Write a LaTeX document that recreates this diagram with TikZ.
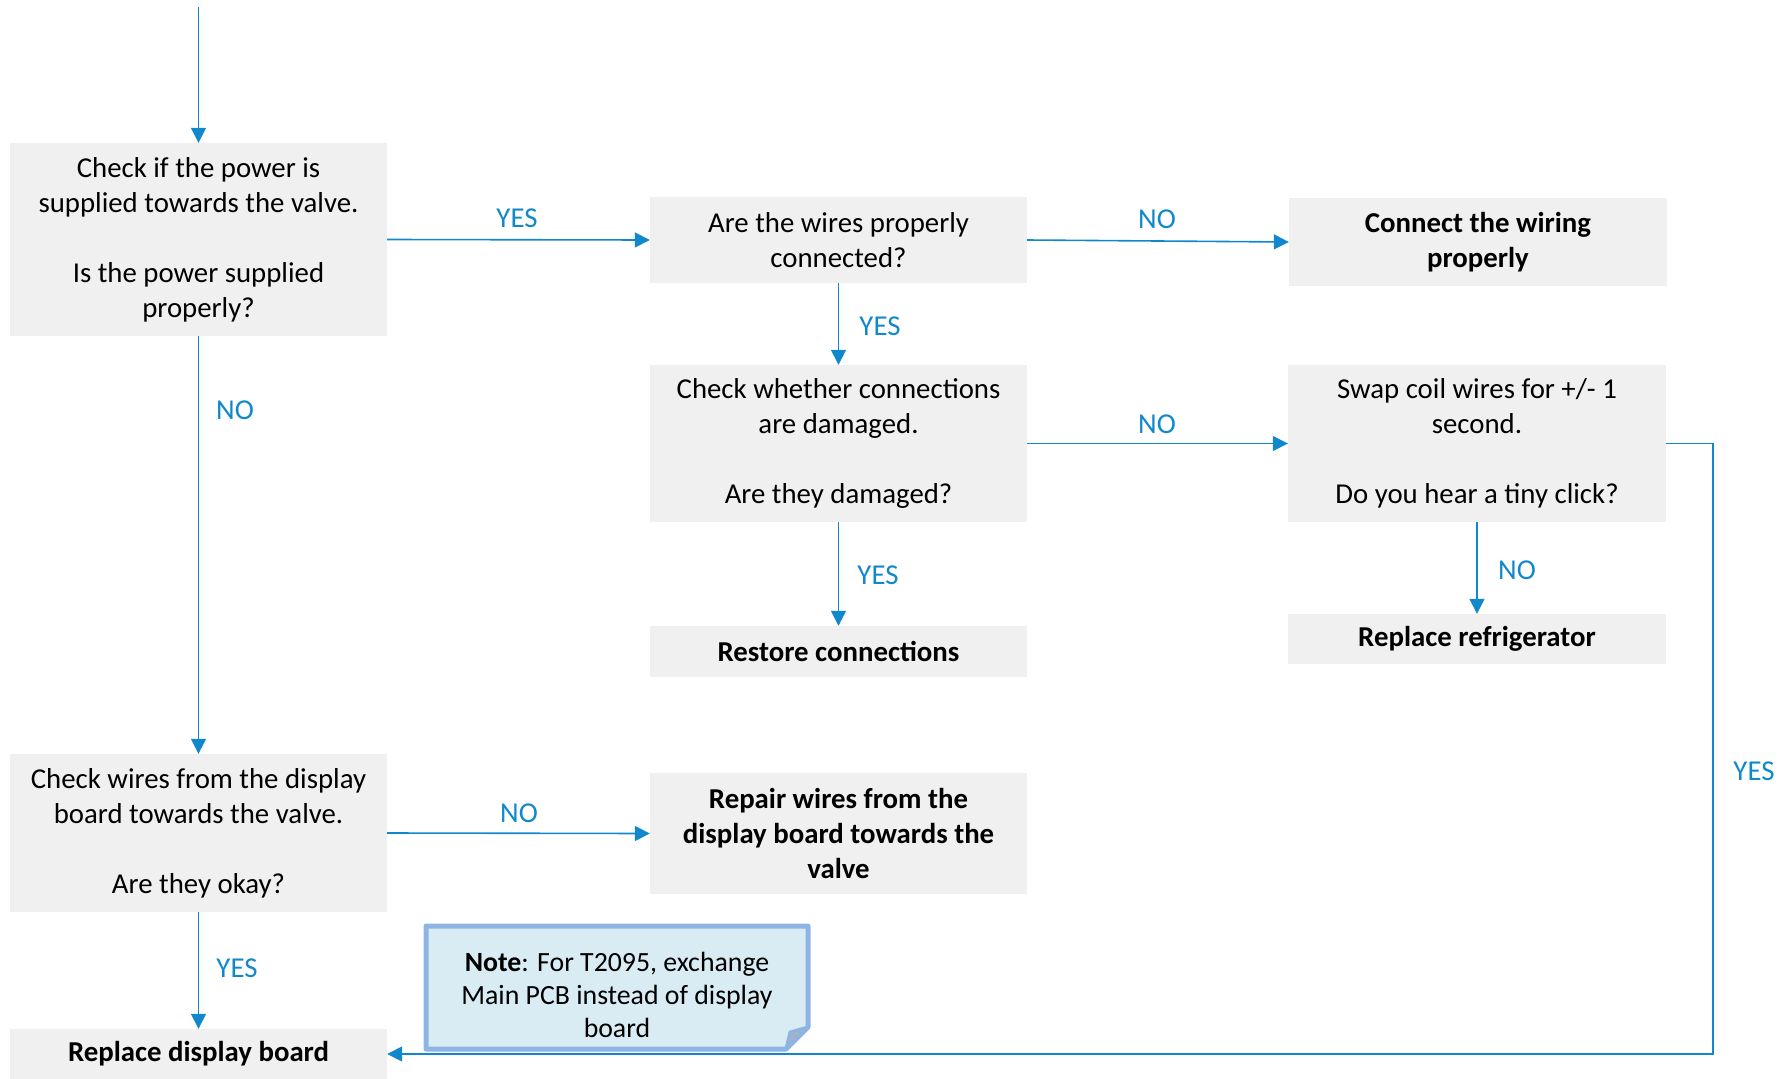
\documentclass[tikz,border=0pt]{standalone}
\usepackage{fontspec}
\setmainfont{Carlito}
\usetikzlibrary{arrows.meta}
\definecolor{boxgray}{HTML}{F0F0F0}
\definecolor{flowblue}{HTML}{1188CC}
\definecolor{notefill}{HTML}{DAECF3}
\definecolor{noteborder}{HTML}{8DB4E2}
\definecolor{notefold}{HTML}{A3B3C6}
\begin{document}
\begin{tikzpicture}[x=1pt,y=-1pt,
  stepbox/.style={fill=boxgray, inner sep=0pt, align=center, minimum width=377pt, font=\fontsize{28.8}{35}\selectfont},
  boldbox/.style={stepbox, font=\fontsize{28.8}{35}\selectfont\bfseries},
  conn/.style={draw=flowblue, line width=1.6pt, -{Triangle[length=15pt,width=15pt]}},
  lbl/.style={text=flowblue, font=\fontsize{28.8}{35}\selectfont, inner sep=0pt}]
\useasboundingbox (0,0) rectangle (1792,1079);

% boxes
\node[stepbox, minimum height=193pt] (b1) at (198.5,239.5) {Check if the power is\\supplied towards the valve.\\[35pt]Is the power supplied\\properly?};
\node[stepbox, minimum height=86pt] (b2) at (838.5,240) {Are the wires properly\\connected?};
\node[boldbox, minimum height=88pt, minimum width=378pt] (b3) at (1478,242) {Connect the wiring\\properly};
\node[stepbox, minimum height=157pt] (b4) at (838.5,443.5) {Check whether connections\\are damaged.\\[35pt]Are they damaged?};
\node[stepbox, minimum height=157pt, minimum width=378pt] (b5) at (1477,443.5) {Swap coil wires for +/- 1\\second.\\[35pt]Do you hear a tiny click?};
\node[boldbox, minimum height=51pt] (b6) at (838.5,651.5) {Restore connections};
\node[boldbox, minimum height=50pt, minimum width=378pt] (b7) at (1477,639) {Replace refrigerator};
\node[stepbox, minimum height=158pt] (b8) at (198.5,833) {Check wires from the display\\board towards the valve.\\[35pt]Are they okay?};
\node[boldbox, minimum height=121pt] (b9) at (838.5,833.5) {Repair wires from the\\display board towards the\\valve};
\node[boldbox, minimum height=50pt] (b10) at (198.5,1054) {Replace display board};

% note
\draw[noteborder, line width=5pt, fill=notefill, line join=round]
  (426,926) -- (808,926) -- (808,1027) -- (786,1049) -- (426,1049) -- cycle;
\draw[noteborder, line width=3pt, fill=notefold, line join=round]
  (808,1027) -- (790,1032) -- (786,1049) -- cycle;
\node[inner sep=0pt, align=center, font=\fontsize{27.8}{33}\selectfont] (note) at (617,995)
  {\textbf{Note}: For T2095, exchange\\Main PCB instead of display\\board};

% connectors
\coordinate (start) at (198.5,7);
\coordinate (ret) at (1713,443.5);
\draw[conn] (start) -- (b1.north);
\draw[conn] (b1.east) -- (b2.west);
\draw[conn] (b2.east) -- (b3.west);
\draw[conn] (b2.south) -- (b4.north);
\draw[conn] (b4.east) -- (b5.west);
\draw[conn] (b4.south) -- (b6.north);
\draw[conn] (b5.south) -- (b7.north);
\draw[conn] (b1.south) -- (b8.north);
\draw[conn] (b8.east) -- (b9.west);
\draw[conn] (b8.south) -- (b10.north);
\draw[conn] (b5.east) -- (ret) |- (b10.east);

% labels
\node[lbl] (l1) at (517,218) {YES};
\node[lbl] (l2) at (1157,219) {NO};
\node[lbl] (l3) at (880,326) {YES};
\node[lbl] (l4) at (1157,424) {NO};
\node[lbl] (l5) at (878,575) {YES};
\node[lbl] (l6) at (1517,570) {NO};
\node[lbl] (l7) at (235,410) {NO};
\node[lbl] (l8) at (519,813) {NO};
\node[lbl] (l9) at (237,968) {YES};
\node[lbl] (l10) at (1754,771) {YES};
\end{tikzpicture}
\end{document}
